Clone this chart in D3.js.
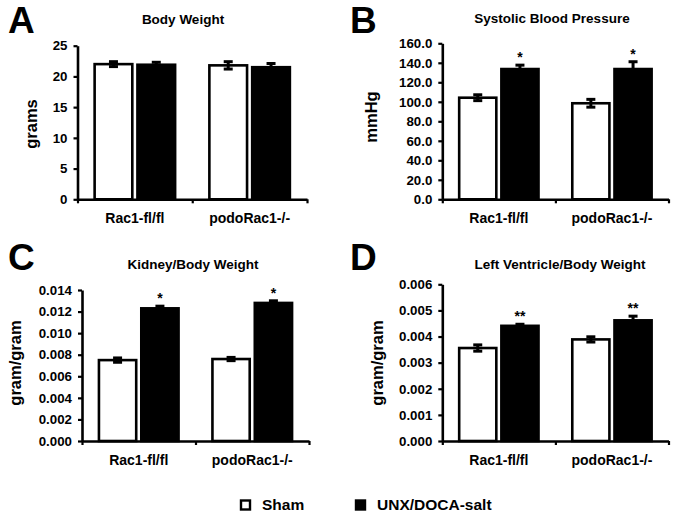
<!DOCTYPE html>
<html>
<head>
<meta charset="utf-8">
<script src="https://cdn.jsdelivr.net/npm/d3@7"></script>
<style>
  html, body { margin: 0; padding: 0; background: #fff; }
  svg { display: block; }
  text { font-family: "Liberation Sans", Arial, Helvetica, sans-serif; font-weight: bold; fill: #000; }
</style>
</head>
<body>
<svg id="chart" width="675" height="518"></svg>
<script>
// ---- Data ----
const groups = ["Rac1-fl/fl", "podoRac1-/-"];
const series = ["Sham", "UNX/DOCA-salt"];

// A: Body Weight (grams)
const bwSham = [22.0, 21.8];
const bwShamErr = [0.4, 0.6];
const bwUnx = [21.9, 21.5];
const bwUnxErr = [0.4, 0.6];
const bwStars = ["", ""];
const bwTicks = [0, 5, 10, 15, 20, 25];

// B: Systolic Blood Pressure (mmHg)
const sbpSham = [104.2, 98.5];
const sbpShamErr = [3.0, 4.0];
const sbpUnx = [133.6, 133.6];
const sbpUnxErr = [4.0, 7.5];
const sbpStars = ["*", "*"];
const sbpTicks = [0, 20, 40, 60, 80, 100, 120, 140, 160];

// C: Kidney/Body Weight (gram/gram)
const kbwSham = [0.0075, 0.0076];
const kbwShamErr = [0.0002, 0.00015];
const kbwUnx = [0.0123, 0.0128];
const kbwUnxErr = [0.0002, 0.0002];
const kbwStars = ["*", "*"];
const kbwTicks = [0, 0.002, 0.004, 0.006, 0.008, 0.010, 0.012, 0.014];

// D: Left Ventricle/Body Weight (gram/gram)
const lvSham = [0.00356, 0.00389];
const lvShamErr = [0.00012, 0.0001];
const lvUnx = [0.00441, 0.00462];
const lvUnxErr = [0.00006, 0.00016];
const lvStars = ["**", "**"];
const lvTicks = [0, 0.001, 0.002, 0.003, 0.004, 0.005, 0.006];

// ---- Drawing ----
const svg = d3.select("#chart");
const FONT = "'Liberation Sans', Arial, sans-serif";

function panel(cfg) {
  const g = svg.append("g");
  const y = d3.scaleLinear().domain([0, cfg.max]).range([cfg.yBot, cfg.yTop]);
  const x = d3.scaleBand().domain(groups).range([cfg.x0, cfg.x1]).padding(0);
  const xi = d3.scaleBand().domain(series).range([0, x.bandwidth()])
    .paddingInner(0.12).paddingOuter(0.4);

  // letter
  g.append("text").attr("x", cfg.lx).attr("y", cfg.ly)
    .style("font-size", "37px").text(cfg.letter);
  // title
  g.append("text").attr("x", cfg.tx).attr("y", cfg.ty)
    .attr("text-anchor", "middle").style("font-size", "13.5px").text(cfg.title);
  // y label
  g.append("text")
    .attr("transform", `translate(${cfg.ylx},${cfg.yly}) rotate(-90)`)
    .attr("text-anchor", "middle").attr("dy", "0.35em")
    .style("font-size", "16.5px").text(cfg.ylabel);

  const rows = groups.map((grp, i) => ({
    grp,
    vals: [
      { s: series[0], v: cfg.sham[i], e: cfg.shamErr[i] },
      { s: series[1], v: cfg.unx[i], e: cfg.unxErr[i] }
    ],
    star: cfg.stars[i]
  }));

  const gg = g.selectAll(".grp").data(rows).join("g")
    .attr("transform", d => `translate(${x(d.grp)},0)`);

  gg.selectAll("rect").data(d => d.vals).join("rect")
    .attr("x", d => xi(d.s))
    .attr("y", d => y(d.v))
    .attr("width", xi.bandwidth())
    .attr("height", d => y(0) - y(d.v))
    .attr("fill", (d, i) => i === 0 ? "#fff" : "#000")
    .attr("stroke", "#000").attr("stroke-width", 2.6);

  // error bars
  const eb = gg.selectAll(".eb").data(d => d.vals).join("g").attr("class", "eb")
    .attr("transform", d => `translate(${xi(d.s) + xi.bandwidth() / 2},0)`);
  eb.append("line").attr("x1", 0).attr("x2", 0)
    .attr("y1", d => y(d.v - d.e)).attr("y2", d => y(d.v + d.e))
    .attr("stroke", "#000").attr("stroke-width", 3);
  eb.append("line").attr("x1", -4.5).attr("x2", 4.5)
    .attr("y1", d => y(d.v + d.e)).attr("y2", d => y(d.v + d.e))
    .attr("stroke", "#000").attr("stroke-width", 3);
  eb.append("line").attr("x1", -4.5).attr("x2", 4.5)
    .attr("y1", d => y(d.v - d.e)).attr("y2", d => y(d.v - d.e))
    .attr("stroke", "#000").attr("stroke-width", 3);

  // stars
  gg.append("text")
    .attr("x", xi(series[1]) + xi.bandwidth() / 2)
    .attr("y", d => y(d.vals[1].v + d.vals[1].e) - 3)
    .attr("text-anchor", "middle").style("font-size", "14px")
    .text(d => d.star);

  // y axis
  const ya = g.append("g").attr("transform", `translate(${cfg.x0},0)`)
    .call(d3.axisLeft(y).tickValues(cfg.ticks).tickFormat(cfg.fmt)
      .tickSize(4).tickSizeOuter(0).tickPadding(6));
  ya.select(".domain").attr("stroke-width", 2.6);
  ya.selectAll(".tick line").attr("stroke-width", 2.2);
  ya.selectAll(".tick text").style("font-size", "13.3px").style("font-family", FONT);

  // x axis with boundary ticks
  const xb = d3.scaleLinear().domain([0, groups.length]).range([cfg.x0, cfg.x1]);
  const xa = g.append("g").attr("transform", `translate(0,${cfg.yBot})`)
    .call(d3.axisBottom(xb).tickValues(d3.range(groups.length + 1))
      .tickFormat("").tickSize(4).tickSizeOuter(0));
  xa.select(".domain").attr("stroke-width", 2.6);
  xa.selectAll(".tick line").attr("stroke-width", 2.2);

  // x labels
  const xl = g.append("g").attr("transform", `translate(0,${cfg.yBot})`)
    .call(d3.axisBottom(x).tickSize(0).tickPadding(14));
  xl.select(".domain").remove();
  xl.selectAll(".tick text").style("font-size", "14px").style("font-family", FONT);
}

panel({ letter: "A", lx: 8, ly: 33, title: "Body Weight", tx: 183, ty: 24,
  ylabel: "grams", ylx: 31, yly: 124,
  x0: 77.5, x1: 307, yTop: 45.7, yBot: 199.3, max: 25, ticks: bwTicks, fmt: d3.format("d"),
  sham: bwSham, shamErr: bwShamErr, unx: bwUnx, unxErr: bwUnxErr, stars: bwStars });

panel({ letter: "B", lx: 350, ly: 33, title: "Systolic Blood Pressure", tx: 552, ty: 23,
  ylabel: "mmHg", ylx: 371, yly: 117,
  x0: 442.3, x1: 668.5, yTop: 43.3, yBot: 199.3, max: 160, ticks: sbpTicks, fmt: d3.format(".1f"),
  sham: sbpSham, shamErr: sbpShamErr, unx: sbpUnx, unxErr: sbpUnxErr, stars: sbpStars });

panel({ letter: "C", lx: 8, ly: 270, title: "Kidney/Body Weight", tx: 193, ty: 269,
  ylabel: "gram/gram", ylx: 15, yly: 363,
  x0: 82, x1: 309, yTop: 290, yBot: 441, max: 0.014, ticks: kbwTicks, fmt: d3.format(".3f"),
  sham: kbwSham, shamErr: kbwShamErr, unx: kbwUnx, unxErr: kbwUnxErr, stars: kbwStars });

panel({ letter: "D", lx: 350, ly: 270, title: "Left Ventricle/Body Weight", tx: 560, ty: 269,
  ylabel: "gram/gram", ylx: 377, yly: 363,
  x0: 442.3, x1: 668.5, yTop: 284.3, yBot: 441, max: 0.006, ticks: lvTicks, fmt: d3.format(".3f"),
  sham: lvSham, shamErr: lvShamErr, unx: lvUnx, unxErr: lvUnxErr, stars: lvStars });

// ---- Legend ----
const lg = svg.append("g");
const legendX = [241, 356];
lg.selectAll("rect").data(series).join("rect")
  .attr("x", (d, i) => legendX[i]).attr("y", 500.5)
  .attr("width", 9).attr("height", 9)
  .attr("fill", (d, i) => i === 0 ? "#fff" : "#000")
  .attr("stroke", "#000").attr("stroke-width", 2.4);
lg.selectAll("text").data(series).join("text")
  .attr("x", (d, i) => legendX[i] + 21).attr("y", 510)
  .style("font-size", "15.5px").text(d => d);
</script>
</body>
</html>
